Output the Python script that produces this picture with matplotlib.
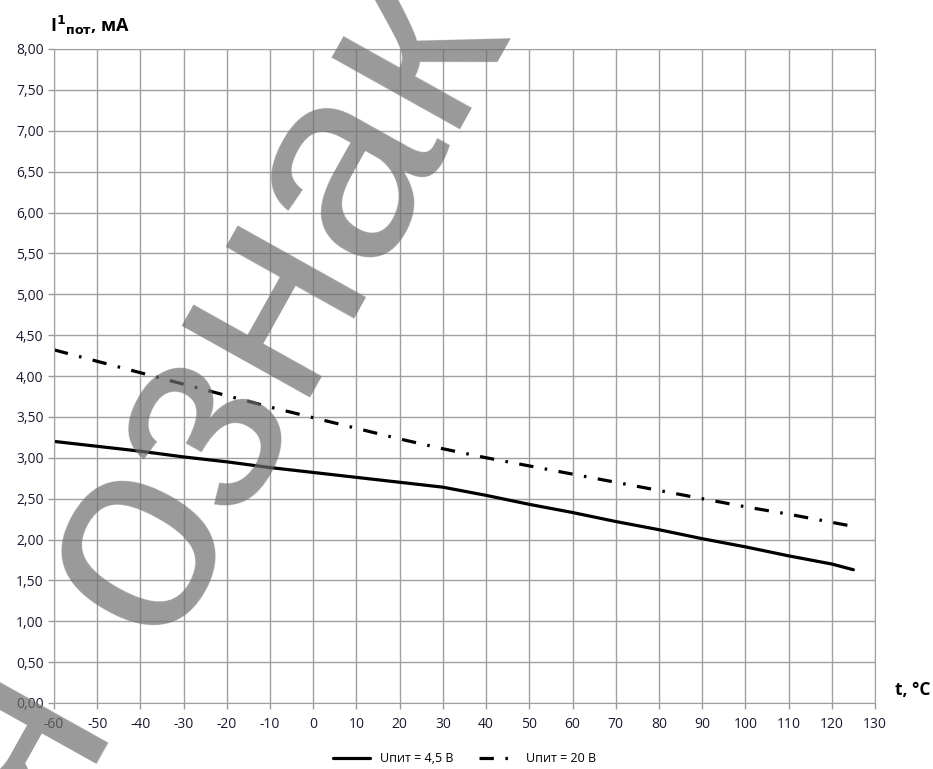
import matplotlib.pyplot as plt
import numpy as np

plt.rcParams['font.family'] = ['Open Sans', 'DejaVu Sans']

t_45 = [-60, -50, -40, -30, -20, -10, 0, 10, 20, 30, 40, 50, 60, 70, 80, 90, 100, 110, 120, 125]
i_45 = [3.20, 3.14, 3.08, 3.01, 2.95, 2.88, 2.82, 2.76, 2.70, 2.64, 2.54, 2.43, 2.33, 2.22, 2.12, 2.01, 1.91, 1.80, 1.70, 1.63]

t_20 = [-60, -50, -40, -30, -20, -10, 0, 10, 20, 30, 40, 50, 60, 70, 80, 90, 100, 110, 120, 125]
i_20 = [4.32, 4.18, 4.04, 3.90, 3.76, 3.62, 3.49, 3.36, 3.23, 3.11, 3.00, 2.90, 2.80, 2.70, 2.60, 2.50, 2.40, 2.31, 2.21, 2.16]

x_ticks = np.arange(-60, 131, 10)
y_ticks = np.arange(0, 8.01, 0.5)

fig = plt.figure(figsize=(9.33, 7.69), dpi=100)
ax = fig.add_axes([54 / 933, 1 - 703 / 769, (875 - 54) / 933, (703 - 49) / 769])

ax.set_xlim(-60, 130)
ax.set_ylim(0, 8)
ax.set_xticks(x_ticks)
ax.set_yticks(y_ticks)
ax.set_xticklabels([str(v) for v in x_ticks], fontsize=10)
ax.set_yticklabels([f"{v:.2f}".replace('.', ',') for v in y_ticks], fontsize=10)
ax.tick_params(color='#999999', length=4, width=1, labelcolor='#1a1a2e')
ax.tick_params(axis='x', pad=6)
ax.grid(True, color='#a0a0a0', lw=1)
for s in ax.spines.values():
    s.set_color('#a0a0a0')

ax.plot(t_45, i_45, color='black', lw=2.3, label='Uпит = 4,5 В', solid_capstyle='round')
ax.plot(t_20, i_20, color='black', lw=2.3, dashes=(4.5, 3.6, 0.8, 3.6), label='Uпит = 20 В')

fig.text(50 / 933, 1 - 25 / 769, r'I$^\mathbf{1}$$_\mathbf{пот}$, мА', fontsize=13, fontweight='bold',
         va='center', ha='left')
fig.text(895 / 933, 1 - 690 / 769, 't, °C', fontsize=12.5, fontweight='bold', va='center', ha='left')

ax.legend(loc='center', bbox_to_anchor=(0.5, -0.085), ncol=2, frameon=False, fontsize=9,
          handlelength=3, columnspacing=2)

# watermark
ang = 60.8
wm = dict(fontsize=200, color='#6e6e6e', alpha=0.7, rotation=ang, rotation_mode='anchor',
          va='baseline', family='Liberation Sans', zorder=10)
ux, uy = np.cos(np.radians(ang)), np.sin(np.radians(ang))
x0, y0 = 160, 769 - 647
fig.text(x0 / 933, y0 / 769, 'ознак', ha='left', **wm)
probe = fig.text(0, 0, 'ознак', **{**wm, 'rotation': 0})
w = probe.get_window_extent(renderer=fig.canvas.get_renderer()).width
probe.remove()
gap = w + 45
fig.text((x0 + ux * gap) / 933, (y0 + uy * gap) / 769, 'омления', ha='left', **wm)
fig.text(117 / 933, 1 - 722 / 769, 'для', ha='right', **wm)

plt.savefig('out.png', dpi=100)
